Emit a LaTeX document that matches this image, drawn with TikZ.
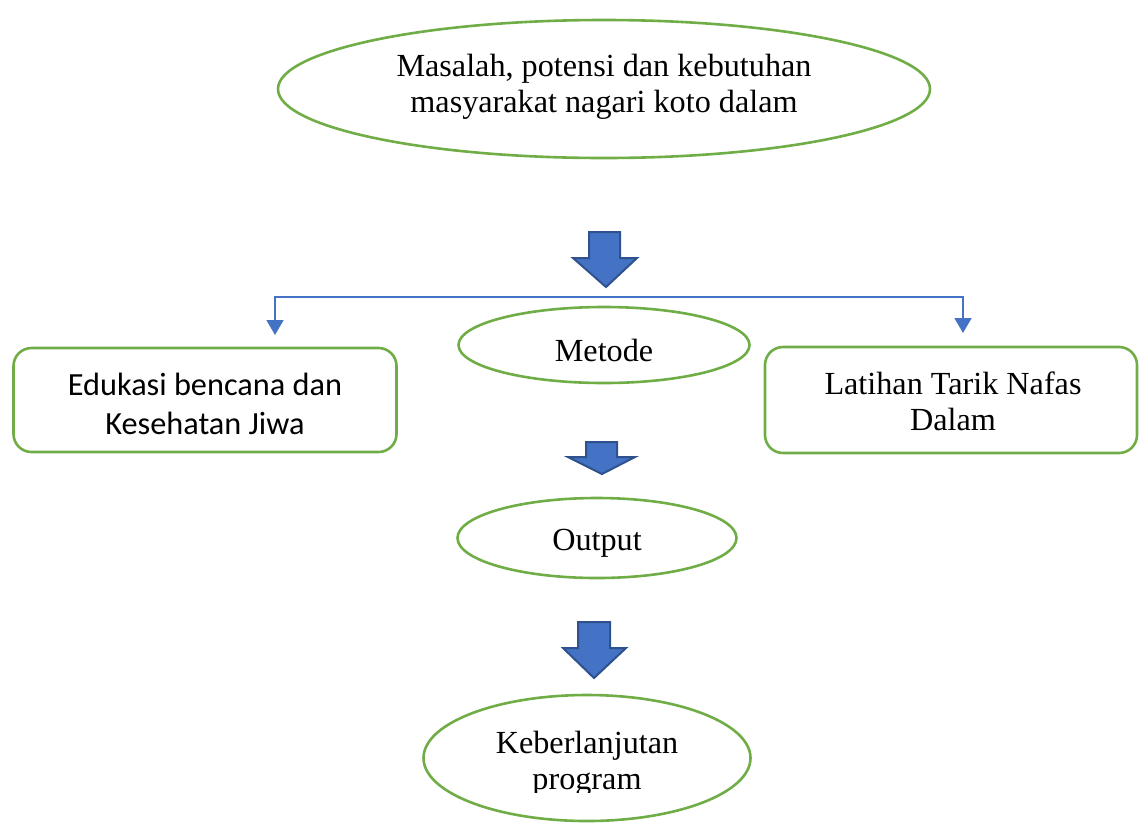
\documentclass[tikz,border=0pt]{standalone}
\usepackage{fontspec}
\setmainfont{Liberation Serif}
\newfontfamily\calib{Carlito}
\usetikzlibrary{arrows.meta,shapes.geometric}
\definecolor{grn}{HTML}{70AD47}
\definecolor{blu}{HTML}{4472C4}
\definecolor{bluedge}{HTML}{2F528F}
\begin{document}
\begin{tikzpicture}[x=1pt,y=-1pt,
  oval/.style={draw=grn,line width=2.6pt,ellipse,inner sep=0pt},
  rbox/.style={draw=grn,line width=2.6pt,rounded corners=18pt,inner sep=0pt},
  serif/.style={align=center,inner sep=0pt,font=\fontsize{32.2}{36.5}\selectfont},
  sans/.style={align=center,inner sep=0pt,font=\calib\fontsize{32.3}{39}\selectfont},
  blockarrow/.style={fill=blu,draw=bluedge,line width=2pt,line join=miter},
  thinarrow/.style={draw=blu,line width=1.6pt,-{Triangle[width=17pt,length=15pt]}}]
\useasboundingbox (0,0) rectangle (1139,823);
\clip (0,0) rectangle (1139,823);
% top ellipse
\node[oval,minimum width=652pt,minimum height=138pt] (top) at (604,89) {};
\node[serif] (toptext) at (604,87) {Masalah, potensi dan kebutuhan\\masyarakat nagari koto dalam};
% block arrow 1
\draw[blockarrow] (589,232) -- (620,232) -- (620,258) -- (637,258) -- (606,287) -- (573,258) -- (589,258) -- cycle;
% distribution line
\coordinate (hmid) at (606,297);
\coordinate (tipL) at (275,335);
\coordinate (tipR) at (963,333);
\draw[thinarrow] (hmid) -| (tipL);
\draw[thinarrow] (hmid) -| (tipR);
% middle row
\node[oval,minimum width=291pt,minimum height=76pt] (metode) at (604,345) {};
\node[serif] (metodetext) at (604,350) {Metode};
\node[rbox,minimum width=383pt,minimum height=104pt] (edu) at (205,400) {};
\node[sans] (edutext) at (205,404) {Edukasi bencana dan\\Kesehatan Jiwa};
\node[rbox,minimum width=372pt,minimum height=106pt] (lat) at (951,400) {};
\node[serif] (lattext) at (953,401.5) {Latihan Tarik Nafas\\Dalam};
% block arrow 2
\draw[blockarrow] (586,442) -- (617,442) -- (617,457) -- (635,457) -- (602,474) -- (568,457) -- (586,457) -- cycle;
\node[oval,minimum width=279pt,minimum height=80pt] (output) at (597,538) {};
\node[serif] (outputtext) at (597,543) {Output};
% block arrow 3
\draw[blockarrow] (578,622) -- (610,622) -- (610,648) -- (626,648) -- (594,678) -- (563,648) -- (578,648) -- cycle;
\node[oval,minimum width=327pt,minimum height=126pt] (keb) at (587,758) {};
\begin{scope}
  \clip (400,700) rectangle (780,792);
  \node[serif] (kebtext) at (587,764) {Keberlanjutan\\program};
\end{scope}
\end{tikzpicture}
\end{document}
